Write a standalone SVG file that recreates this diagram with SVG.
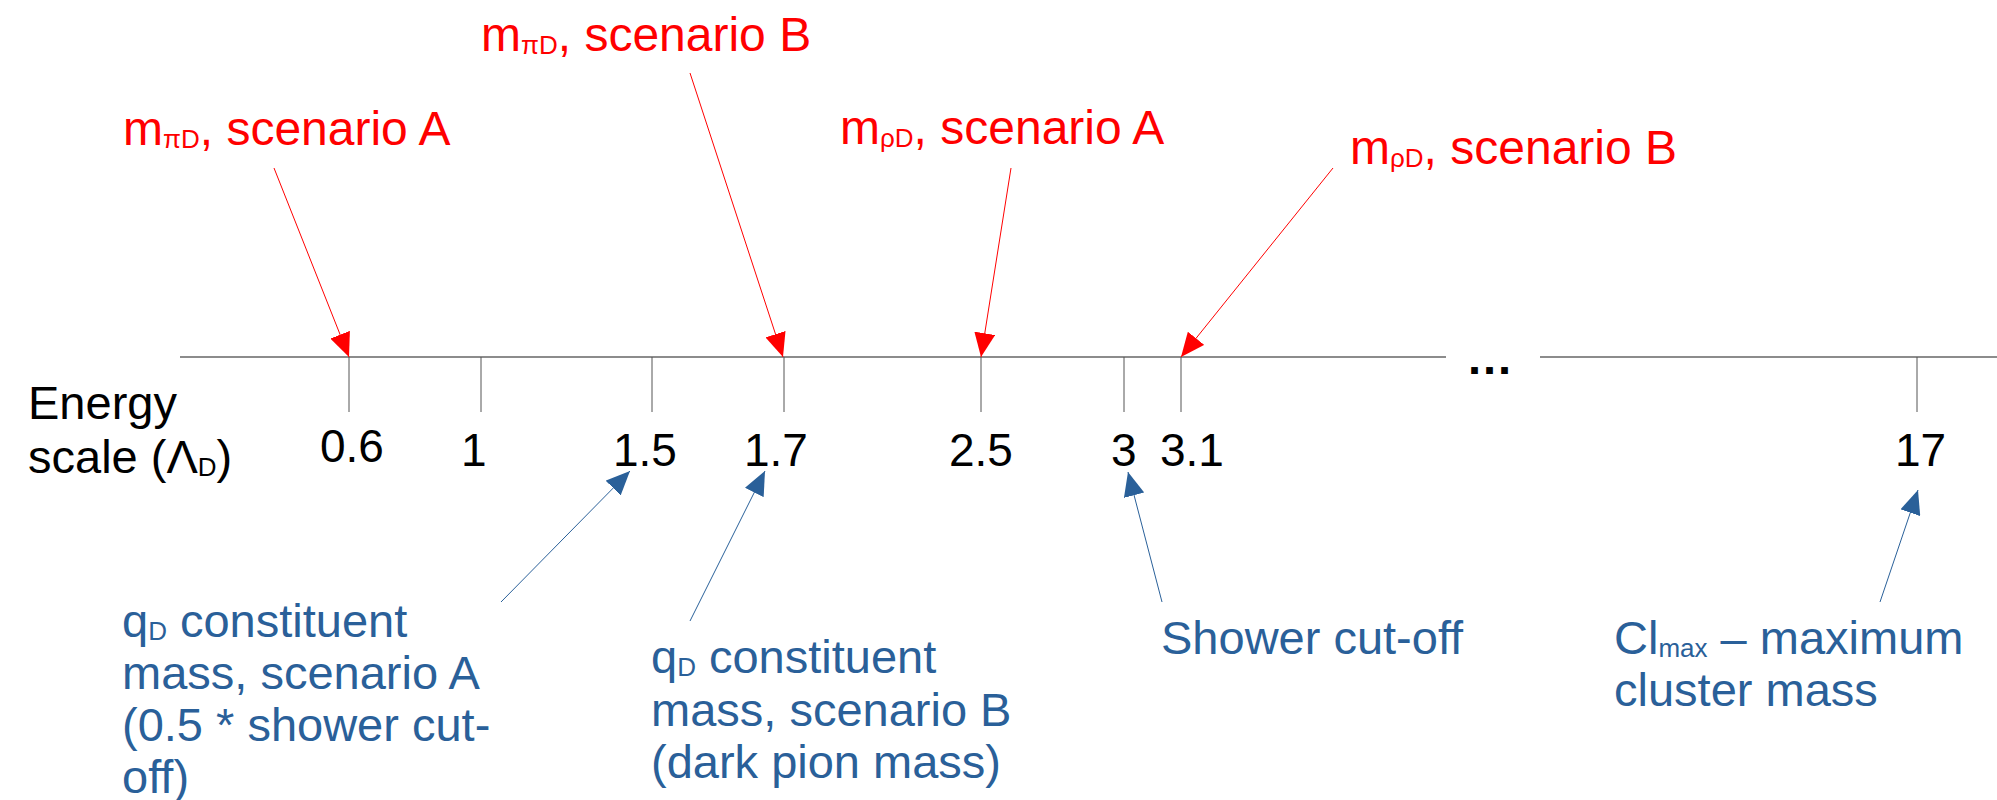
<svg xmlns="http://www.w3.org/2000/svg" width="1997" height="800" viewBox="0 0 1997 800">
<style>
text{font-family:"Liberation Sans",Arial,sans-serif}
.red{fill:#ff0000;font-size:48px}
.blue{fill:#2a6099;font-size:47px}
.blk{fill:#000000;font-size:47px}
.num{fill:#000000;font-size:46px}
.sub{font-size:26px}
.axis{stroke:#666666;stroke-width:1.5;fill:none}
.tick{stroke:#555555;stroke-width:1;fill:none}
.rc{stroke:#ff0000;stroke-width:1;fill:none;marker-end:url(#ar)}
.bc{stroke:#2a6099;stroke-width:1;fill:none;marker-end:url(#ab)}
</style>
<defs>
<marker id="ar" markerUnits="userSpaceOnUse" markerWidth="25" markerHeight="21" refX="24" refY="10.5" orient="auto" viewBox="0 0 25 21">
<path d="M0,0 L24,10.5 L0,21 z" fill="#ff0000"/>
</marker>
<marker id="ab" markerUnits="userSpaceOnUse" markerWidth="25" markerHeight="21" refX="24" refY="10.5" orient="auto" viewBox="0 0 25 21">
<path d="M0,0 L24,10.5 L0,21 z" fill="#2a6099"/>
</marker>
</defs>
<rect width="1997" height="800" fill="#ffffff"/>
<g id="axis">
<line class="axis" x1="180" y1="357" x2="1446" y2="357"/>
<line class="axis" x1="1540" y1="357" x2="1997" y2="357"/>
<line class="tick" x1="349" y1="357" x2="349" y2="412"/>
<line class="tick" x1="481" y1="357" x2="481" y2="412"/>
<line class="tick" x1="652" y1="357" x2="652" y2="412"/>
<line class="tick" x1="784" y1="357" x2="784" y2="412"/>
<line class="tick" x1="981" y1="357" x2="981" y2="412"/>
<line class="tick" x1="1124" y1="357" x2="1124" y2="412"/>
<line class="tick" x1="1181" y1="357" x2="1181" y2="412"/>
<line class="tick" x1="1917" y1="357" x2="1917" y2="412"/>
<text class="blk" x="1468" y="374" font-weight="bold" letter-spacing="2">...</text>
</g>
<g id="axis-label">
<text class="blk" x="28" y="419">Energy</text>
<text class="blk" x="28" y="473">scale (Λ<tspan class="sub" dy="3">D</tspan><tspan dy="-3">)</tspan></text>
</g>
<g id="tick-labels">
<text class="num" x="320" y="462">0.6</text>
<text class="num" x="461" y="466">1</text>
<text class="num" x="613" y="466">1.5</text>
<text class="num" x="744" y="466">1.7</text>
<text class="num" x="949" y="466">2.5</text>
<text class="num" x="1111" y="466">3</text>
<text class="num" x="1160" y="466">3.1</text>
<text class="num" x="1895" y="466">17</text>
</g>
<g id="connectors">
<line class="rc" x1="274" y1="168" x2="349" y2="357"/>
<line class="rc" x1="690" y1="73" x2="783" y2="357"/>
<line class="rc" x1="1011" y1="168" x2="981" y2="357"/>
<line class="rc" x1="1333" y1="168" x2="1181" y2="357"/>
<line class="bc" x1="501" y1="602" x2="630" y2="471"/>
<line class="bc" x1="690" y1="621" x2="765" y2="471"/>
<line class="bc" x1="1162" y1="602" x2="1128" y2="472"/>
<line class="bc" x1="1880" y1="602" x2="1918" y2="490"/>
</g>
<g id="m-pi-A">
<text class="red" x="123" y="145">m<tspan class="sub" dy="3">πD</tspan><tspan dy="-3">, scenario A</tspan></text>
</g>
<g id="m-pi-B">
<text class="red" x="481" y="51">m<tspan class="sub" dy="3">πD</tspan><tspan dy="-3">, scenario B</tspan></text>
</g>
<g id="m-rho-A">
<text class="red" x="840" y="144">m<tspan class="sub" dy="3">ρD</tspan><tspan dy="-3">, scenario A</tspan></text>
</g>
<g id="m-rho-B">
<text class="red" x="1350" y="164">m<tspan class="sub" dy="3">ρD</tspan><tspan dy="-3">, scenario B</tspan></text>
</g>
<g id="qD-A">
<text class="blue" x="122" y="637">q<tspan class="sub" dy="3">D</tspan><tspan dy="-3"> constituent</tspan></text>
<text class="blue" x="122" y="689">mass, scenario A</text>
<text class="blue" x="122" y="741">(0.5 * shower cut-</text>
<text class="blue" x="122" y="793">off)</text>
</g>
<g id="qD-B">
<text class="blue" x="651" y="673">q<tspan class="sub" dy="3">D</tspan><tspan dy="-3"> constituent</tspan></text>
<text class="blue" x="651" y="726">mass, scenario B</text>
<text class="blue" x="651" y="778">(dark pion mass)</text>
</g>
<g id="shower-cutoff">
<text class="blue" x="1161" y="654">Shower cut-off</text>
</g>
<g id="cl-max">
<text class="blue" x="1614" y="654">Cl<tspan class="sub" dy="3">max</tspan><tspan dy="-3"> – maximum</tspan></text>
<text class="blue" x="1614" y="706">cluster mass</text>
</g>
</svg>
